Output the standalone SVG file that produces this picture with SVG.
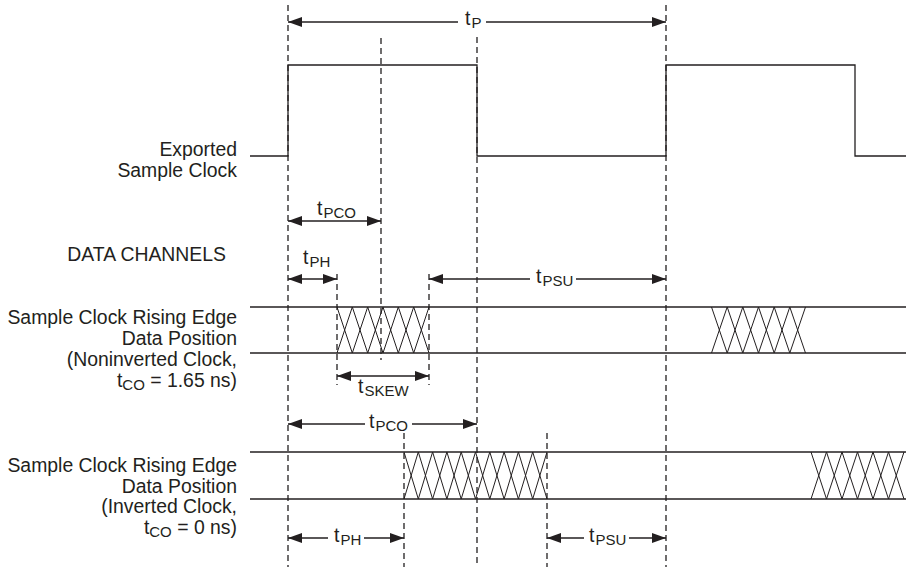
<svg xmlns="http://www.w3.org/2000/svg" width="906" height="567" viewBox="0 0 906 567">
<style>
.ln{fill:none;stroke:#231f20;stroke-width:1.3}
.ds{fill:none;stroke:#231f20;stroke-width:1.3;stroke-dasharray:6 4}
.ar{fill:none;stroke:#231f20;stroke-width:1.3;marker-end:url(#ah)}
.ar2{fill:none;stroke:#231f20;stroke-width:1.3;marker-end:url(#ah);marker-start:url(#ah)}
.xx{fill:none;stroke:#231f20;stroke-width:1}
text{font-family:"Liberation Sans",Arial,Helvetica,sans-serif;font-size:19.4px;fill:#231f20}
.sub{font-size:15px}
</style>
<defs>
<marker id="ah" viewBox="0 0 14 10" refX="14" refY="5" markerWidth="14" markerHeight="10" markerUnits="userSpaceOnUse" orient="auto-start-reverse">
<path d="M0,0L14,5L0,10z" fill="#231f20"/>
</marker>
</defs>
<rect width="906" height="567" fill="#fff"/>

<g id="labels">
<text x="237" y="156" text-anchor="end">Exported</text>
<text x="237" y="177" text-anchor="end">Sample Clock</text>
<text x="226" y="261" text-anchor="end">DATA CHANNELS</text>
<text x="237" y="324" text-anchor="end">Sample Clock Rising Edge</text>
<text x="237" y="345" text-anchor="end">Data Position</text>
<text x="237" y="366" text-anchor="end">(Noninverted Clock,</text>
<text x="237" y="387" text-anchor="end">t<tspan class="sub" dy="3">CO</tspan><tspan dy="-3"> = 1.65 ns)</tspan></text>
<text x="237" y="472" text-anchor="end">Sample Clock Rising Edge</text>
<text x="237" y="493" text-anchor="end">Data Position</text>
<text x="237" y="513" text-anchor="end">(Inverted Clock,</text>
<text x="237" y="534" text-anchor="end">t<tspan class="sub" dy="3">CO</tspan><tspan dy="-3"> = 0 ns)</tspan></text>
</g>

<g id="clock">
<polyline class="ln" points="250,156 288,156 288,65 477,65 477,156 666,156 666,65 855,65 855,156 906,156"/>
</g>

<g id="data1">
<line class="ln" x1="250" y1="307" x2="906" y2="307"/>
<line class="ln" x1="250" y1="353" x2="906" y2="353"/>
<path class="xx" d="M337,307L352.3,353L367.7,307L383,353L398.3,307L413.7,353L429,307M337,353L352.3,307L367.7,353L383,307L398.3,353L413.7,307L429,353"/>
<path class="xx" d="M711.5,307L727.2,353L742.8,307L758.5,353L774.2,307L789.8,353L805.5,307M711.5,353L727.2,307L742.8,353L758.5,307L774.2,353L789.8,307L805.5,353"/>
</g>

<g id="data2">
<line class="ln" x1="250" y1="452" x2="906" y2="452"/>
<line class="ln" x1="250" y1="499" x2="906" y2="499"/>
<path class="xx" d="M404,452L418.3,499L432.6,452L446.9,499L461.2,452L475.5,499L489.8,452L504.1,499L518.4,452L532.7,499L547,452M404,499L418.3,452L432.6,499L446.9,452L461.2,499L475.5,452L489.8,499L504.1,452L518.4,499L532.7,452L547,499"/>
<path class="xx" d="M811,452L826.5,499L842,452L857.5,499L873,452L888.5,499L904,452M811,499L826.5,452L842,499L857.5,452L873,499L888.5,452L904,499"/>
</g>

<g id="connectors">
<line class="ds" x1="288" y1="5" x2="288" y2="567"/>
<line class="ds" x1="381" y1="38" x2="381" y2="360"/>
<line class="ds" x1="477" y1="37" x2="477" y2="567"/>
<line class="ds" x1="666" y1="5" x2="666" y2="567"/>
<line class="ds" x1="337" y1="274" x2="337" y2="385"/>
<line class="ds" x1="429" y1="274" x2="429" y2="385"/>
<line class="ds" x1="404" y1="433" x2="404" y2="567"/>
<line class="ds" x1="547" y1="433" x2="547" y2="567"/>

<line class="ar" x1="458" y1="22" x2="288" y2="22"/>
<line class="ar" x1="486" y1="22" x2="666" y2="22"/>
<line class="ar2" x1="288" y1="221" x2="381" y2="221"/>
<line class="ar2" x1="288" y1="279" x2="337" y2="279"/>
<line class="ar" x1="530" y1="279" x2="429" y2="279"/>
<line class="ar" x1="576" y1="279" x2="666" y2="279"/>
<line class="ar2" x1="337" y1="376" x2="429" y2="376"/>
<line class="ar" x1="365" y1="424" x2="288" y2="424"/>
<line class="ar" x1="412" y1="424" x2="477" y2="424"/>
<line class="ar" x1="328" y1="538" x2="288" y2="538"/>
<line class="ar" x1="364" y1="538" x2="404" y2="538"/>
<line class="ar" x1="584" y1="538" x2="547" y2="538"/>
<line class="ar" x1="629" y1="538" x2="666" y2="538"/>
</g>

<g id="timing-labels">
<text x="465" y="25">t<tspan class="sub" dx="1" dy="3">P</tspan></text>
<text x="317" y="215">t<tspan class="sub" dx="1" dy="3">PCO</tspan></text>
<text x="303" y="264">t<tspan class="sub" dx="1" dy="3">PH</tspan></text>
<text x="536" y="283">t<tspan class="sub" dx="1" dy="3">PSU</tspan></text>
<text x="358" y="393">t<tspan class="sub" dx="1" dy="3">SKEW</tspan></text>
<text x="369" y="428">t<tspan class="sub" dx="1" dy="3">PCO</tspan></text>
<text x="334" y="542">t<tspan class="sub" dx="1" dy="3">PH</tspan></text>
<text x="589" y="542">t<tspan class="sub" dx="1" dy="3">PSU</tspan></text>
</g>
</svg>
